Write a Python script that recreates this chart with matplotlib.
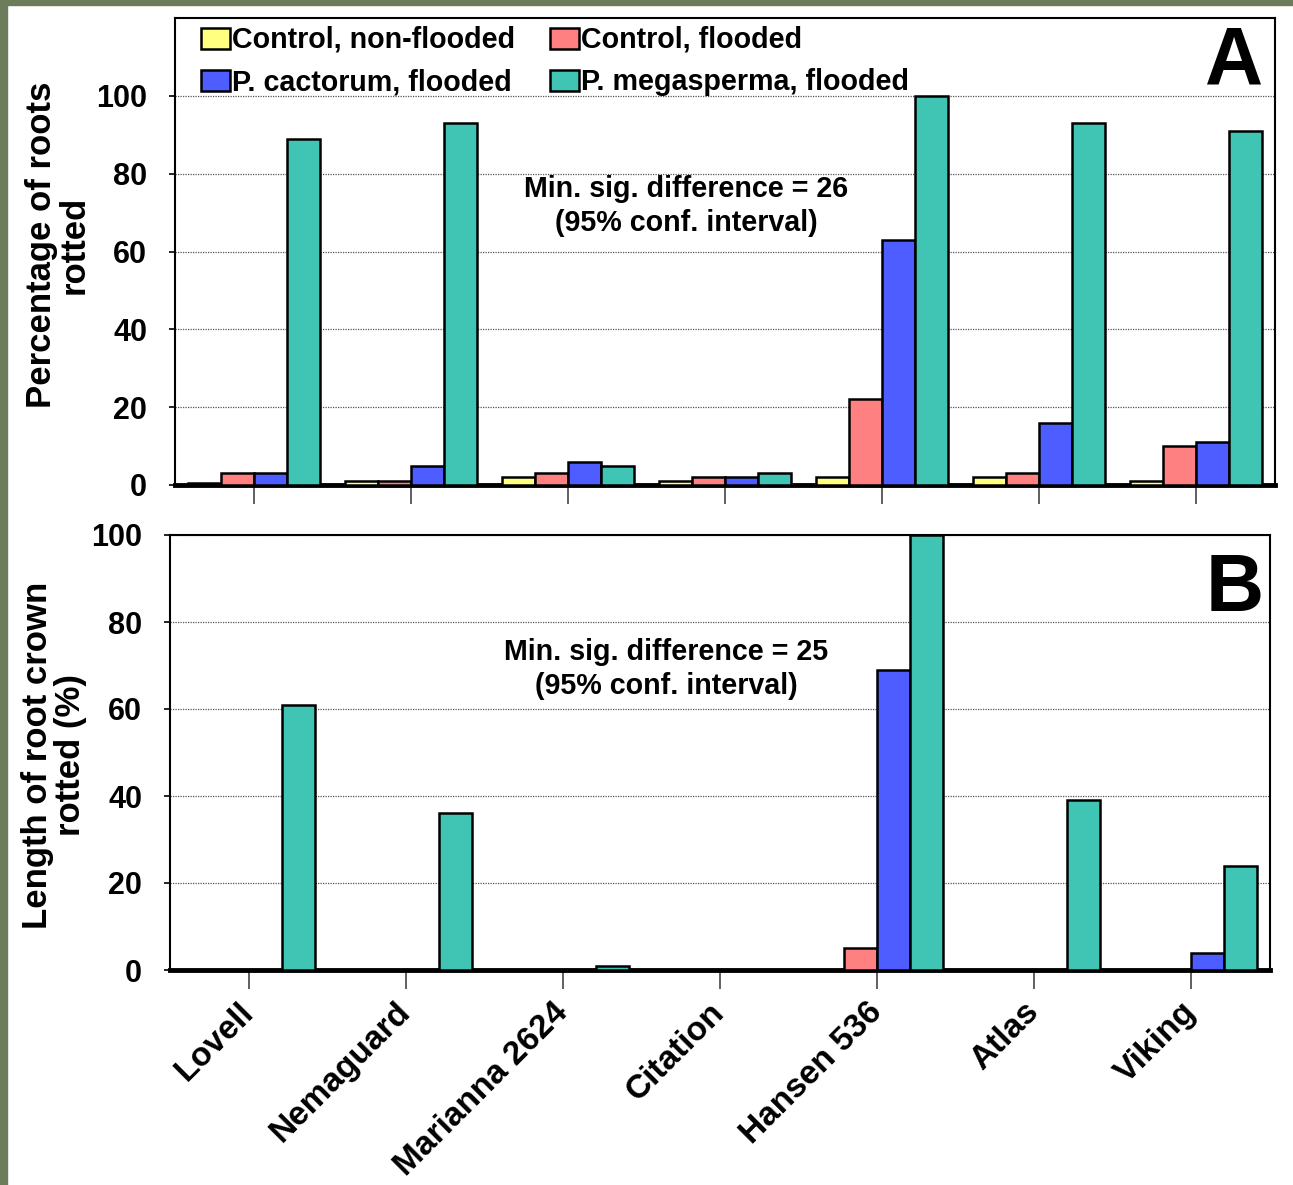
import matplotlib
matplotlib.use("Agg")
import matplotlib.pyplot as plt
from matplotlib.patches import Rectangle
import numpy as np

plt.rcParams['font.family'] = ['Liberation Sans', 'DejaVu Sans']
plt.rcParams['font.weight'] = 'bold'

# data
cultivars = ["Lovell", "Nemaguard", "Marianna 2624", "Citation",
             "Hansen 536", "Atlas", "Viking"]
series = ["Control, non-flooded", "Control, flooded",
          "P. cactorum, flooded", "P. megasperma, flooded"]
colors = ["#FFFF80", "#FF8080", "#4D5DFF", "#40C4B4"]

# panel A: percentage of roots rotted
a_ctrl_dry = [0.5, 1, 2, 1, 2, 2, 1]
a_ctrl_wet = [3, 1, 3, 2, 22, 3, 10]
a_cact = [3, 5, 6, 2, 63, 16, 11]
a_mega = [89, 93, 5, 3, 100, 93, 91]

# panel B: length of root crown rotted (%)
b_ctrl_dry = [0, 0, 0, 0, 0, 0, 0]
b_ctrl_wet = [0, 0, 0, 0, 5, 0, 0]
b_cact = [0, 0, 0, 0, 69, 0, 4]
b_mega = [61, 36, 1, 0, 100, 39, 24]

W, H = 1293, 1185
fig = plt.figure(figsize=(W / 100, H / 100), dpi=100)
fig.patch.set_facecolor("white")

# green frame on left and top edge
fig.patches.append(Rectangle((0, 0), 7 / W, 1, transform=fig.transFigure,
                             color="#6B7D5B", zorder=0))
fig.patches.append(Rectangle((0, 1 - 5 / H), 1, 5 / H, transform=fig.transFigure,
                             color="#6B7D5B", zorder=0))

axA = fig.add_axes([175 / W, 1 - 485 / H, 1100 / W, 467 / H])
axB = fig.add_axes([170 / W, 1 - 970 / H, 1100 / W, 435 / H])

x = np.arange(len(cultivars))
bw = 0.21
offs = [-1.5, -0.5, 0.5, 1.5]


def draw_panel(ax, data, ymax):
    handles = []
    for vals, off, c, lab in zip(data, offs, colors, series):
        b = ax.bar(x + off * bw, vals, bw, color=c, edgecolor="black",
                   linewidth=1.8, label=lab, zorder=3)
        handles.append(b)
    ax.set_xlim(-0.5, 6.5)
    ax.set_ylim(0, ymax)
    ax.set_yticks(range(0, 101, 20))
    ax.grid(axis="y", linestyle=(0, (1, 1)), color="#555555", linewidth=0.9, zorder=0)
    ax.set_axisbelow(True)
    for s in ["left", "right", "top"]:
        ax.spines[s].set_linewidth(1.5)
        ax.spines[s].set_color("black")
    ax.spines["bottom"].set_linewidth(3.5)
    ax.set_xticks(x)
    ax.tick_params(axis="x", length=14, width=1.2, color="#444444", direction="out")
    ax.tick_params(axis="y", length=4, width=1.2, pad=16, labelsize=22)
    for t in ax.get_yticklabels():
        t.set_fontweight("bold")
    return handles


hA = draw_panel(axA, [a_ctrl_dry, a_ctrl_wet, a_cact, a_mega], 120)
axA.set_xticklabels([])
hB = draw_panel(axB, [b_ctrl_dry, b_ctrl_wet, b_cact, b_mega], 100)
axB.set_xticklabels(cultivars, rotation=45, ha="right", va="center",
                    rotation_mode="anchor", fontsize=24, fontweight="bold")
axB.tick_params(axis="x", pad=13)

# legend in panel A, ordered so rows read across
order = [0, 2, 1, 3]
axA.legend([hA[i] for i in order], [series[i] for i in order], ncol=2,
           loc="upper left", bbox_to_anchor=(201 / W, 1 - 26 / H),
           bbox_transform=fig.transFigure, frameon=False,
           handlelength=1.0, handleheight=0.75, handletextpad=0.1,
           columnspacing=1.2, labelspacing=0.5, borderpad=0, borderaxespad=0,
           prop={"weight": "bold", "size": 20.6})

axA.text(686 / W, 1 - 206 / H, "Min. sig. difference = 26\n(95% conf. interval)",
         transform=fig.transFigure, ha="center", va="center", fontsize=20.6,
         fontweight="bold", linespacing=1.3)
axB.text(666 / W, 1 - 669 / H, "Min. sig. difference = 25\n(95% conf. interval)",
         transform=fig.transFigure, ha="center", va="center", fontsize=20.6,
         fontweight="bold", linespacing=1.3)

fig.text(1234 / W, 1 - 63 / H, "A", ha="center", va="center", fontsize=58,
         fontweight="bold")
fig.text(1235 / W, 1 - 590 / H, "B", ha="center", va="center", fontsize=58,
         fontweight="bold")

fig.text(58 / W, 1 - 245 / H, "Percentage of roots\nrotted", rotation=90,
         ha="center", va="center", fontsize=25, fontweight="bold",
         multialignment="center", linespacing=1.0)
fig.text(54 / W, 1 - 755 / H, "Length of root crown\nrotted (%)", rotation=90,
         ha="center", va="center", fontsize=25, fontweight="bold",
         multialignment="center", linespacing=1.0)

fig.savefig("out.png", dpi=100)
